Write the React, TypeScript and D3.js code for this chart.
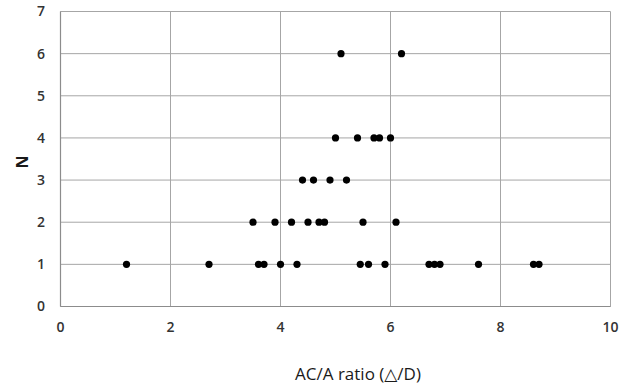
import * as d3 from 'd3';

// one entry per patient: AC/A ratio and the count (N) stacked at that ratio
const ratios = [
  1.2, 2.7, 3.6, 3.7, 4.0, 4.3, 5.45, 5.6, 5.9, 6.7, 6.8, 6.9, 7.6, 8.6, 8.7,
  3.5, 3.9, 4.2, 4.5, 4.7, 4.8, 5.5, 6.1,
  4.4, 4.6, 4.9, 5.2,
  5.0, 5.4, 5.7, 5.8, 6.0,
  5.1, 6.2,
];
const counts = [
  1, 1, 1, 1, 1, 1, 1, 1, 1, 1, 1, 1, 1, 1, 1,
  2, 2, 2, 2, 2, 2, 2, 2,
  3, 3, 3, 3,
  4, 4, 4, 4, 4,
  6, 6,
];
const xTicks = [0, 2, 4, 6, 8, 10];
const yTicks = [0, 1, 2, 3, 4, 5, 6, 7];

const W = 629;
const H = 388;

export default function App() {
  const x = d3.scaleLinear().domain([0, 10]).range([60.5, 610.5]);
  const y = d3.scaleLinear().domain([0, 7]).range([306.5, 11.5]);
  const font = '"Open Sans", "DejaVu Sans", sans-serif';

  return (
    <svg
      width={W}
      height={H}
      style={{ position: 'absolute', left: 0, top: 0, background: '#fff' }}
      fontFamily={font}
    >
      <g>
        {xTicks.map((t) => (
          <line key={'gx' + t} x1={x(t)} x2={x(t)} y1={y(7)} y2={y(0)} stroke='#a6a6a6' strokeWidth={1} />
        ))}
        {yTicks.map((t) => (
          <line key={'gy' + t} x1={x(0)} x2={x(10)} y1={y(t)} y2={y(t)} stroke='#a6a6a6' strokeWidth={1} />
        ))}
        <line x1={x(0)} x2={x(10)} y1={y(0)} y2={y(0)} stroke='#8c8c8c' strokeWidth={1.2} />
        <line x1={x(0)} x2={x(0)} y1={y(7)} y2={y(0)} stroke='#8c8c8c' strokeWidth={1.2} />
      </g>
      <g fontSize={14} fontWeight={600} fill='#333'>
        {yTicks.map((t) => (
          <text key={'ly' + t} x={45} y={y(t)} dy='0.35em' textAnchor='end'>
            {t}
          </text>
        ))}
        {xTicks.map((t) => (
          <text key={'lx' + t} x={x(t)} y={327} dy='0.35em' textAnchor='middle'>
            {t}
          </text>
        ))}
      </g>
      <text
        transform={`translate(22,${y(3.5) + 3}) rotate(-90)`}
        textAnchor='middle'
        fontSize={16}
        fontWeight={700}
        fill='#1a1a1a'
        dy='0.35em'
      >
        N
      </text>
      <text x={358} y={374} dy='0.35em' textAnchor='middle' fontSize={17} fill='#1a1a1a'>
        AC/A ratio (△/D)
      </text>
      <g>
        {ratios.map((r, i) => (
          <circle key={i} cx={x(r)} cy={y(counts[i])} r={3.6} fill='#000' />
        ))}
      </g>
    </svg>
  );
}
